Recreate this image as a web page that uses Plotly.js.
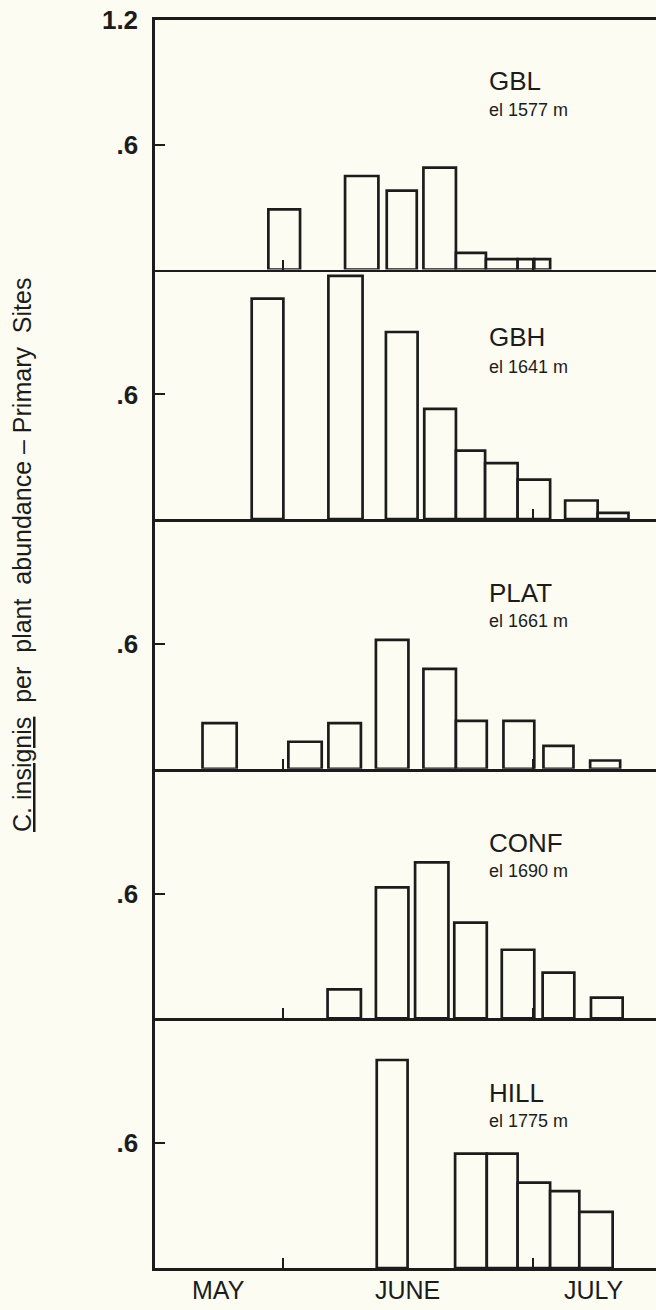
<!DOCTYPE html>
<html>
<head>
<meta charset="utf-8">
<script src="https://cdn.plot.ly/plotly-3.0.1.min.js"></script>
<style>html,body{margin:0;padding:0;background:#fcfcf2;}</style>
</head>
<body>
<div id="chart" style="width:656px;height:1310px;"></div>
<script>
// x values: day count from May 1 (June 1 = 31, July 1 = 61)
const sites = ['GBL', 'GBH', 'PLAT', 'CONF', 'HILL'];
const elevations = ['el 1577 m', 'el 1641 m', 'el 1661 m', 'el 1690 m', 'el 1775 m'];

const gblStart = [29.3, 38.5, 43.5, 47.9, 51.8, 55.4, 59.2, 61.2];
const gblEnd   = [33.1, 42.5, 47.1, 51.8, 55.4, 59.2, 61.2, 63.1];
const gblValue = [0.29, 0.45, 0.38, 0.49, 0.08, 0.05, 0.05, 0.05];

const gbhStart = [27.3, 36.5, 43.4, 48.0, 51.8, 55.3, 59.2, 64.9, 68.8];
const gbhEnd   = [31.1, 40.6, 47.2, 51.8, 55.3, 59.2, 63.1, 68.8, 72.5];
const gbhValue = [1.06, 1.17, 0.90, 0.53, 0.33, 0.27, 0.19, 0.09, 0.03];

const platStart = [21.4, 31.7, 36.5, 42.2, 47.9, 51.8, 57.5, 62.3, 67.9];
const platEnd   = [25.5, 35.7, 40.4, 46.1, 51.8, 55.5, 61.2, 65.9, 71.5];
const platValue = [0.22, 0.13, 0.22, 0.62, 0.48, 0.23, 0.23, 0.11, 0.04];

const confStart = [36.4, 42.2, 46.9, 51.6, 57.3, 62.2, 68.0];
const confEnd   = [40.4, 46.1, 50.9, 55.5, 61.2, 66.0, 71.8];
const confValue = [0.14, 0.63, 0.75, 0.46, 0.33, 0.22, 0.10];

const hillStart = [42.3, 51.7, 55.5, 59.2, 63.1, 66.6];
const hillEnd   = [46.0, 55.5, 59.2, 63.1, 66.6, 70.6];
const hillValue = [1.00, 0.55, 0.55, 0.41, 0.37, 0.27];

const monthLabels = ['MAY', 'JUNE', 'JULY'];
const monthBounds = [31, 61];           // June 1, July 1
const xRange = [15.7, 75.8];
const yTickVals = [0.6, 1.2];
const yTickText = ['.6', '1.2'];

const starts = [gblStart, gbhStart, platStart, confStart, hillStart];
const ends = [gblEnd, gbhEnd, platEnd, confEnd, hillEnd];
const values = [gblValue, gbhValue, platValue, confValue, hillValue];

const INK = '#1c1c1c';
const BG = '#fcfcf2';
const FONT = 'Liberation Sans, Arial, sans-serif';

const traces = [];
const layout = {
  width: 656, height: 1310,
  paper_bgcolor: BG, plot_bgcolor: BG,
  margin: {l: 155, r: 0, t: 20, b: 42},
  showlegend: false,
  barmode: 'overlay',
  annotations: [],
  font: {family: FONT, color: INK}
};

const n = sites.length;
const labelY = [81, 337, 593, 843, 1093];
const elY = [110, 367, 621, 871, 1121];
const plotTop = 20, plotH = 1248;
function py(px) { return 1 - (px - plotTop) / plotH; }

for (let i = 0; i < n; i++) {
  const k = i + 1;
  const xa = 'x' + k, ya = 'y' + k;
  traces.push({
    type: 'bar',
    x: starts[i].map((s, j) => (s + ends[i][j]) / 2),
    width: starts[i].map((s, j) => ends[i][j] - s),
    y: values[i],
    xaxis: xa, yaxis: ya,
    marker: {color: BG, line: {color: INK, width: 2.7}},
    hoverinfo: 'skip'
  });
  const top = 1 - i / n, bot = 1 - (i + 1) / n;
  layout['xaxis' + (k === 1 ? '' : k)] = {
    domain: [0, 1], anchor: ya, range: xRange,
    showline: true, linecolor: INK, linewidth: 2.7,
    mirror: i === 0 ? true : false,
    ticks: 'inside', ticklen: 10, tickwidth: 2, tickcolor: INK,
    tickvals: monthBounds, showticklabels: false,
    showgrid: false, zeroline: false, fixedrange: true
  };
  layout['yaxis' + (k === 1 ? '' : k)] = {
    domain: [bot, top], anchor: xa, range: [0, 1.2],
    showline: true, linecolor: INK, linewidth: 2.7,
    ticks: 'inside', ticklen: 10, tickwidth: 2, tickcolor: INK,
    tickvals: i === 0 ? yTickVals : [yTickVals[0]],
    ticktext: i === 0 ? yTickText : [yTickText[0]],
    tickfont: {family: FONT, size: 26, color: INK, weight: 'bold'},
    ticklabelstandoff: 9,
    showgrid: false, zeroline: false, fixedrange: true
  };
  layout.annotations.push({
    xref: 'paper', yref: 'paper', x: 0.663, y: py(labelY[i]),
    xanchor: 'left', yanchor: 'middle', showarrow: false,
    text: sites[i], font: {family: FONT, size: 26, color: INK}
  });
  layout.annotations.push({
    xref: 'paper', yref: 'paper', x: 0.663, y: py(elY[i]),
    xanchor: 'left', yanchor: 'middle', showarrow: false,
    text: elevations[i], font: {family: FONT, size: 18, color: INK}
  });
}

// month labels centred in the visible span of each month
const edges = [xRange[0]].concat(monthBounds, [xRange[1]]);
monthLabels.forEach((m, j) => {
  layout.annotations.push({
    xref: 'x' + n, yref: 'paper', x: (edges[j] + edges[j + 1]) / 2, y: py(1290),
    xanchor: 'center', yanchor: 'middle', showarrow: false,
    text: m, font: {family: FONT, size: 25, color: INK}
  });
});

layout.annotations.push({
  xref: 'paper', yref: 'paper', x: -133 / 501, y: py(555),
  xanchor: 'center', yanchor: 'middle', showarrow: false, textangle: -90,
  text: '<u>C. insignis</u>  per  plant  abundance \u2013 Primary  Sites',
  font: {family: FONT, size: 25, color: INK}
});

Plotly.newPlot('chart', traces, layout, {displayModeBar: false, staticPlot: true});
</script>
</body>
</html>
